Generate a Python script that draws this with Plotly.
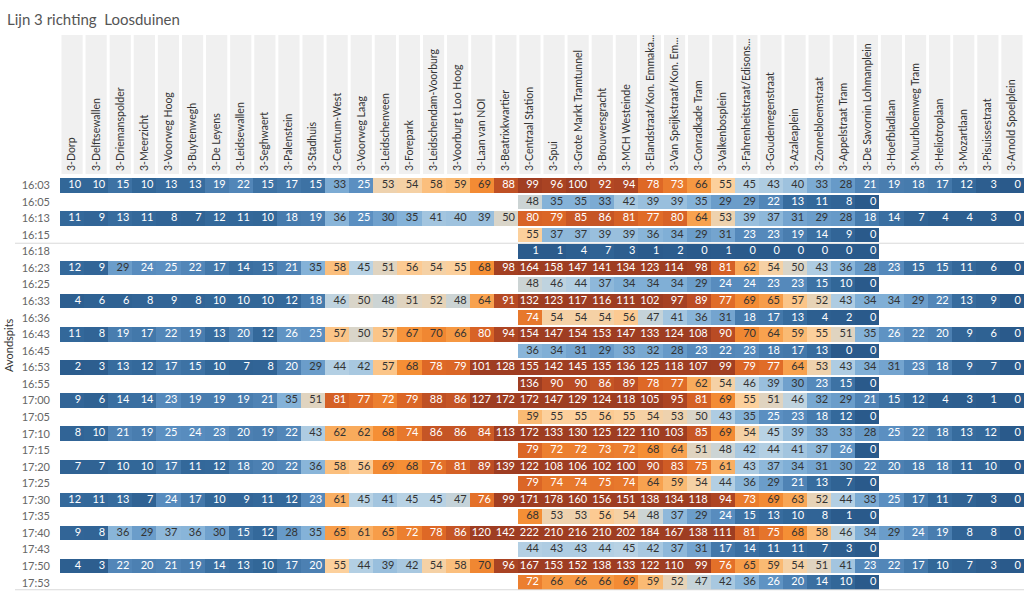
import plotly.graph_objects as go

title_text = "Lijn 3 richting\u00a0\u00a0Loosduinen"
group_label = "Avondspits"

stops = ["3-Dorp", "3-Delftsewallen", "3-Driemanspolder", "3-Meerzicht", "3-Voorweg Hoog",
         "3-Buytenwegh", "3-De Leyens", "3-Leidsewallen", "3-Seghwaert", "3-Palenstein",
         "3-Stadhuis", "3-Centrum-West", "3-Voorweg Laag", "3-Leidschenveen", "3-Forepark",
         "3-Leidschendam-Voorburg", "3-Voorburg t Loo Hoog", "3-Laan van NOI", "3-Beatrixkwartier",
         "3-Centraal Station", "3-Spui", "3-Grote Markt Tramtunnel", "3-Brouwersgracht",
         "3-MCH Westeinde", "3-Elandstraat/Kon. Emmaka...", "3-Van Speijkstraat/Kon. Em...",
         "3-Conradkade Tram", "3-Valkenbosplein", "3-Fahrenheitstraat/Edisons...",
         "3-Goudenregenstraat", "3-Azaleaplein", "3-Zonnebloemstraat", "3-Appelstraat Tram",
         "3-De Savornin Lohmanplein", "3-Hoefbladlaan", "3-Muurbloemweg Tram", "3-Heliotroplaan",
         "3-Mozartlaan", "3-Pisuissestraat", "3-Arnold Spoelplein"]

times = ["16:03", "16:05", "16:13", "16:15", "16:18", "16:23", "16:25", "16:33", "16:36",
         "16:43", "16:45", "16:53", "16:55", "17:00", "17:05", "17:10", "17:15", "17:20",
         "17:25", "17:30", "17:35", "17:40", "17:43", "17:50", "17:53"]

# full trips: Dorp -> Arnold Spoelplein
t1603 = [10, 10, 15, 10, 13, 13, 19, 22, 15, 17, 15, 33, 25, 53, 54, 58, 59, 69, 88, 99,
         96, 100, 92, 94, 78, 73, 66, 55, 45, 43, 40, 33, 28, 21, 19, 18, 17, 12, 3, 0]
t1613 = [11, 9, 13, 11, 8, 7, 12, 11, 10, 18, 19, 36, 25, 30, 35, 41, 40, 39, 50, 80,
         79, 85, 86, 81, 77, 80, 64, 53, 39, 37, 31, 29, 28, 18, 14, 7, 4, 4, 3, 0]
t1623 = [12, 9, 29, 24, 25, 22, 17, 14, 15, 21, 35, 58, 45, 51, 56, 54, 55, 68, 98, 164,
         158, 147, 141, 134, 123, 114, 98, 81, 62, 54, 50, 43, 36, 28, 23, 15, 15, 11, 6, 0]
t1633 = [4, 6, 6, 8, 9, 8, 10, 10, 10, 12, 18, 46, 50, 48, 51, 52, 48, 64, 91, 132,
         123, 117, 116, 111, 102, 97, 89, 77, 69, 65, 57, 52, 43, 34, 34, 29, 22, 13, 9, 0]
t1643 = [11, 8, 19, 17, 22, 19, 13, 20, 12, 26, 25, 57, 50, 57, 67, 70, 66, 80, 94, 154,
         147, 154, 153, 147, 133, 124, 108, 90, 70, 64, 59, 55, 51, 35, 26, 22, 20, 9, 6, 0]
t1653 = [2, 3, 13, 12, 17, 15, 10, 7, 8, 20, 29, 44, 42, 57, 68, 78, 79, 101, 128, 155,
         142, 145, 135, 136, 125, 118, 107, 99, 79, 77, 64, 53, 43, 34, 31, 23, 18, 9, 7, 0]
t1700 = [9, 6, 14, 14, 23, 19, 19, 19, 21, 35, 51, 81, 77, 72, 79, 88, 86, 127, 172, 172,
         147, 129, 124, 118, 105, 95, 81, 69, 55, 51, 46, 32, 29, 21, 15, 12, 4, 3, 1, 0]
t1710 = [8, 10, 21, 19, 25, 24, 23, 20, 19, 22, 43, 62, 62, 68, 74, 86, 86, 84, 113, 172,
         133, 130, 125, 122, 110, 103, 85, 69, 54, 45, 39, 33, 33, 28, 25, 22, 18, 13, 12, 0]
t1720 = [7, 7, 10, 10, 17, 11, 12, 18, 20, 22, 36, 58, 56, 69, 68, 76, 81, 89, 139, 122,
         108, 106, 102, 100, 90, 83, 75, 61, 43, 37, 34, 31, 30, 22, 20, 18, 18, 11, 10, 0]
t1730 = [12, 11, 13, 7, 24, 17, 10, 9, 11, 12, 23, 61, 45, 41, 45, 45, 47, 76, 99, 171,
         178, 160, 156, 151, 138, 134, 118, 94, 73, 69, 63, 52, 44, 33, 25, 17, 11, 7, 3, 0]
t1740 = [9, 8, 36, 29, 37, 36, 30, 15, 12, 28, 35, 65, 61, 65, 72, 78, 86, 120, 142, 222,
         210, 216, 210, 202, 184, 167, 138, 111, 81, 75, 68, 58, 46, 34, 29, 24, 19, 8, 8, 0]
t1750 = [4, 3, 22, 20, 21, 19, 14, 13, 10, 17, 20, 55, 44, 39, 42, 54, 58, 70, 96, 167,
         153, 152, 138, 133, 122, 110, 99, 76, 65, 59, 54, 51, 41, 23, 22, 17, 10, 7, 3, 0]

# short trips: Centraal Station -> De Savornin Lohmanplein
short_first = "3-Centraal Station"
t1605 = [48, 35, 35, 33, 42, 39, 39, 35, 29, 29, 22, 13, 11, 8, 0]
t1615 = [55, 37, 37, 39, 39, 36, 34, 29, 31, 23, 23, 19, 14, 9, 0]
t1618 = [1, 1, 4, 7, 3, 1, 2, 0, 1, 0, 0, 0, 0, 0, 0]
t1625 = [48, 46, 44, 37, 34, 34, 34, 29, 24, 24, 23, 23, 15, 10, 0]
t1636 = [74, 54, 54, 54, 56, 47, 41, 36, 31, 18, 17, 13, 4, 2, 0]
t1645 = [36, 34, 31, 29, 33, 32, 28, 23, 22, 23, 18, 17, 13, 0, 0]
t1655 = [136, 90, 90, 86, 89, 78, 77, 62, 54, 46, 39, 30, 23, 15, 0]
t1705 = [59, 55, 55, 56, 55, 54, 53, 50, 43, 35, 25, 23, 18, 12, 0]
t1715 = [79, 72, 72, 73, 72, 68, 64, 51, 48, 42, 44, 41, 37, 26, 0]
t1725 = [79, 74, 74, 75, 74, 64, 59, 54, 44, 36, 29, 21, 13, 7, 0]
t1735 = [68, 53, 53, 56, 54, 48, 37, 29, 24, 15, 13, 10, 8, 1, 0]
t1743 = [44, 43, 43, 44, 45, 42, 37, 31, 17, 14, 11, 11, 7, 3, 0]
t1753 = [72, 66, 66, 66, 69, 59, 52, 47, 42, 36, 26, 20, 14, 10, 0]

rows_data = [t1603, t1605, t1613, t1615, t1618, t1623, t1625, t1633, t1636, t1643, t1645,
             t1653, t1655, t1700, t1705, t1710, t1715, t1720, t1725, t1730, t1735, t1740,
             t1743, t1750, t1753]

# ---- build matrix ----
ncol = len(stops)
start = stops.index(short_first)
z = []
for r in rows_data:
    if len(r) == ncol:
        z.append(list(r))
    else:
        row = [None] * ncol
        for k, v in enumerate(r):
            row[start + k] = v
        z.append(row)

colorscale = [
    [0.00, "#2a5a8b"],
    [0.12, "#34699b"],
    [0.25, "#5b8fc1"],
    [0.35, "#84b2d8"],
    [0.45, "#b8d2e4"],
    [0.50, "#d9d5c9"],
    [0.55, "#fcd09c"],
    [0.60, "#fab469"],
    [0.68, "#f58f35"],
    [0.78, "#de6826"],
    [0.90, "#b94b24"],
    [1.00, "#9e3d22"],
]

W, H = 1024, 591
L, T = 60, 177
col_px = (W - L) / 40.0

fig = go.Figure()
fig.add_trace(go.Heatmap(
    z=z, x=list(range(ncol)), y=list(range(len(times))),
    colorscale=colorscale, zmin=0, zmax=100, showscale=False,
    xgap=0, ygap=2, hoverongaps=False,
))

tx, ty, tt, tc = [], [], [], []
for i, row in enumerate(z):
    for j, v in enumerate(row):
        if v is None:
            continue
        tx.append(j + 0.5 - 3.0 / col_px)
        ty.append(i)
        tt.append(str(v))
        tc.append("#ffffff" if (v < 28 or v >= 71) else "#333333")

fig.add_trace(go.Scatter(
    x=tx, y=ty, text=tt, mode="text", textposition="middle left",
    textfont=dict(family="Lato, Arial", size=11, color=tc),
    hoverinfo="skip", showlegend=False,
))

shapes = []
ph = H - T
top_paper = 1 + (T - 35) / ph
for j in range(ncol):
    shapes.append(dict(type="rect", xref="x", yref="paper",
                       x0=j - 0.5 + 0.06, x1=j + 0.5 - 0.06, y0=1 + 3 / ph, y1=top_paper,
                       fillcolor="#f0f0f0", line=dict(width=0), layer="below"))
shapes.append(dict(type="line", xref="paper", yref="y", x0=-45 / (W - L), x1=1,
                   y0=3.5, y1=3.5, line=dict(color="#d9d9d9", width=1)))
shapes.append(dict(type="line", xref="paper", yref="paper", x0=-45 / (W - L), x1=1,
                   y0=0.003, y1=0.003, line=dict(color="#d9d9d9", width=1)))

fig.update_layout(
    width=W, height=H,
    margin=dict(l=L, r=0, t=T, b=0, pad=0),
    paper_bgcolor="white", plot_bgcolor="white",
    shapes=shapes,
    xaxis=dict(range=[-0.5, ncol - 0.5], side="top", tickmode="array",
               tickvals=list(range(ncol)), ticktext=stops, tickangle=-90,
               showgrid=False, zeroline=False, showline=False, ticks="",
               ticklabelstandoff=5,
               tickfont=dict(family="Lato, Arial", size=10.5, color="#333333")),
    yaxis=dict(range=[len(times) - 0.5, -0.5], tickmode="array",
               tickvals=list(range(len(times))), ticktext=times,
               showgrid=False, zeroline=False, showline=False, ticks="",
               ticklabelstandoff=9,
               tickfont=dict(family="Lato, Arial", size=11, color="#666666")),
    annotations=[
        dict(text=title_text, xref="paper", yref="paper", x=-L / (W - L) + 5 / (W - L),
             y=1 + (T - 8) / ph, xanchor="left", yanchor="top", showarrow=False,
             font=dict(family="Lato, Arial", size=15, color="#555555")),
        dict(text=group_label, xref="paper", yref="paper", x=-(L - 8) / (W - L),
             y=(H - 345) / ph, xanchor="center", yanchor="middle", textangle=-90,
             showarrow=False, font=dict(family="Lato, Arial", size=11, color="#333333")),
    ],
)

fig.write_html("out.html")
